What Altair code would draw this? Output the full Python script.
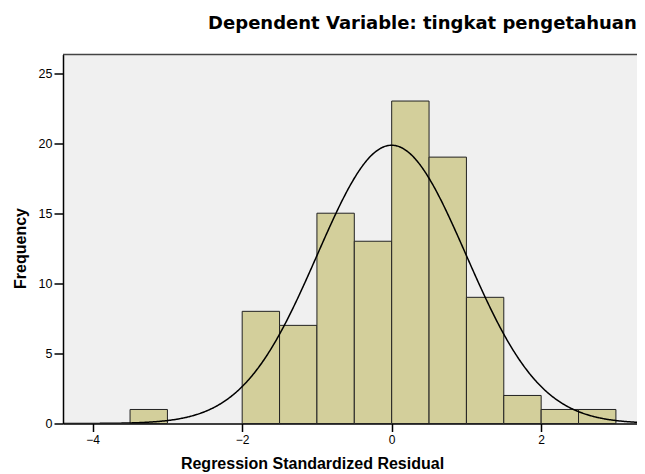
import altair as alt
import pandas as pd

# Histogram bins (left edges, width 0.5) and their frequencies
bin_start = [-3.5, -2.0, -1.5, -1.0, -0.5, 0.0, 0.5, 1.0, 1.5, 2.0, 2.5]
counts = [1, 8, 7, 15, 13, 23, 19, 9, 2, 1, 1]
bin_width = 0.5

# Normal curve parameters (SPSS summary)
mean = 0.0
std_dev = 0.995
n = 99

x_ticks = [-4, -2, 0, 2]
y_ticks = [0, 5, 10, 15, 20, 25]

x_min, x_max = -4.397, 3.282
y_max = 26.32

bars_df = pd.DataFrame({
    "start": bin_start,
    "end": [s + bin_width for s in bin_start],
    "count": counts,
})

x_scale = alt.Scale(domain=[x_min, x_max], nice=False, zero=False)
y_scale = alt.Scale(domain=[0, y_max], nice=False, zero=True)

x_axis = alt.Axis(
    values=x_ticks, format="d", tickSize=8, labelPadding=3,
    title="Regression Standardized Residual",
    titleX=249, titleY=45, titleBaseline="alphabetic", titleAlign="center",
)
y_axis = alt.Axis(
    values=y_ticks, format="d", tickSize=9, labelPadding=2, labelFontSize=12.5,
    title="Frequency",
    titleX=-38, titleY=193.5, titleBaseline="alphabetic", titleAlign="center",
    titleAngle=270,
)

bars = alt.Chart(bars_df).mark_rect(
    fill="#D3CF9B", stroke="#222222", strokeWidth=1
).encode(
    x=alt.X("start:Q", scale=x_scale, axis=x_axis),
    x2="end:Q",
    y=alt.Y("count:Q", scale=y_scale, axis=y_axis),
    y2=alt.datum(0),
)

peak = n * bin_width
curve = alt.Chart(alt.sequence(-4.4, 3.4, 0.01, as_="x")).transform_calculate(
    y=f"{peak}/({std_dev}*sqrt(2*PI))*exp(-0.5*pow((datum.x-{mean})/{std_dev},2))"
).mark_line(color="black", strokeWidth=1.5, clip=True).encode(
    x=alt.X("x:Q", scale=x_scale),
    y=alt.Y("y:Q", scale=y_scale),
)

# top frame line of the plot area (the right side is cut off in the original)
frame_top = alt.Chart(pd.DataFrame({"k": [0]})).mark_rule(
    color="#444444", strokeWidth=1.5
).encode(
    y=alt.value(0), x=alt.value(0), x2=alt.value(574)
)

chart = alt.layer(bars, curve, frame_top).properties(
    width=574,
    height=369,
    title=alt.TitleParams(
        "Dependent Variable: tingkat pengetahuan",
        anchor="end", font="DejaVu Sans", fontSize=18, fontWeight="bold",
        baseline="alphabetic", offset=7, dx=-1, color="black",
    ),
    autosize=alt.AutoSizeParams(type="none"),
    padding={"left": 55, "top": 46.5, "right": 0, "bottom": 52},
).configure_view(
    fill="#F0F0F0", stroke="transparent", strokeWidth=0
).configure_axis(
    grid=False,
    domainColor="black", domainWidth=1.5,
    tickColor="black", tickWidth=1.5,
    labelFont="Liberation Sans", labelFontSize=12, labelColor="black",
    titleFont="Liberation Sans", titleFontSize=16, titleFontWeight="bold",
    titleColor="black",
)

chart.save("out.html", embed_options={"renderer": "svg", "actions": False})
